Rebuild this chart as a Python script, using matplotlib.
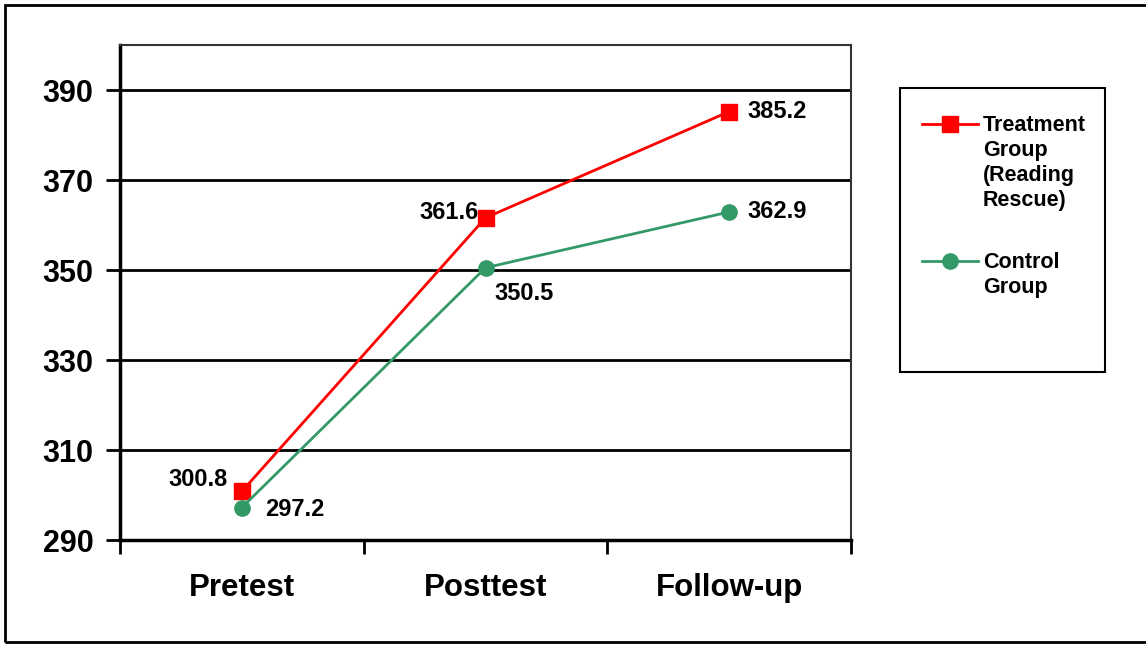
import matplotlib
matplotlib.use('Agg')
import matplotlib.pyplot as plt
from matplotlib.lines import Line2D
from matplotlib.patches import Rectangle

plt.rcParams['font.family'] = ['Liberation Sans', 'DejaVu Sans']
plt.rcParams['font.weight'] = 'bold'

# test occasions and mean scores
categories = ['Pretest', 'Posttest', 'Follow-up']
treatment = [300.8, 361.6, 385.2]
control = [297.2, 350.5, 362.9]
yticks = [290, 310, 330, 350, 370, 390]

red = '#ff0000'
green = '#339966'

W, H = 1146, 646
fig = plt.figure(figsize=(W / 100, H / 100), dpi=100)
ax = fig.add_axes([120 / W, 1 - 540 / H, (851 - 120) / W, (540 - 45) / H])

x = list(range(len(categories)))
ax.plot(x, treatment, color=red, lw=2, marker='s', ms=11, zorder=3)
ax.plot(x, control, color=green, lw=2, marker='o', ms=11, zorder=3)

ax.set_xlim(-0.5, len(categories) - 0.5)
ax.set_ylim(290, 400)
ax.set_yticks(yticks)
ax.set_yticklabels([str(v) for v in yticks], fontsize=22, fontweight='bold')
ax.yaxis.grid(True, color='black', lw=2)
ax.set_axisbelow(True)

# category borders get the tick marks, names sit in between
ax.set_xticks([i - 0.5 for i in range(len(categories) + 1)])
ax.set_xticklabels([])
ax.set_xticks(x, minor=True)
ax.set_xticklabels(categories, minor=True, fontsize=22.5, fontweight='bold')
ax.tick_params(axis='x', which='major', length=10, width=2, direction='out')
ax.tick_params(axis='x', which='minor', length=0, pad=24)
ax.tick_params(axis='y', length=10, width=2, direction='out', pad=9)

for side in ['left', 'bottom']:
    ax.spines[side].set_linewidth(2.5)
for side in ['top', 'right']:
    ax.spines[side].set_linewidth(1.5)
    ax.spines[side].set_color('#333333')

# value labels next to the markers
offsets_t = [(-14, 12, 'right'), (-7, 5, 'right'), (18, 0, 'left')]
offsets_c = [(23, -2, 'left'), (9, -26, 'left'), (18, 0, 'left')]
for i in x:
    dx, dy, ha = offsets_t[i]
    ax.annotate(f'{treatment[i]:.1f}', (i, treatment[i]), xytext=(dx, dy),
                textcoords='offset pixels', ha=ha, va='center',
                fontsize=17, fontweight='bold')
    dx, dy, ha = offsets_c[i]
    ax.annotate(f'{control[i]:.1f}', (i, control[i]), xytext=(dx, dy),
                textcoords='offset pixels', ha=ha, va='center',
                fontsize=17, fontweight='bold')

# legend box
fig.add_artist(Rectangle((900 / W, 1 - 372 / H), 205 / W, 284 / H,
                         transform=fig.transFigure, fill=False,
                         edgecolor='black', lw=1.5))
entries = [('Treatment\nGroup\n(Reading\nRescue)', red, 's', 124),
           ('Control\nGroup', green, 'o', 261)]
for label, col, mk, ypx in entries:
    yy = 1 - ypx / H
    fig.add_artist(Line2D([922 / W, 978 / W], [yy, yy], transform=fig.transFigure,
                          color=col, lw=2))
    fig.add_artist(Line2D([950 / W], [yy], transform=fig.transFigure,
                          color=col, marker=mk, ms=11, lw=0))
    fig.text(983 / W, yy + 9 / H, label, ha='left', va='top',
             fontsize=15.5, fontweight='bold', linespacing=1.24)

# outer frame
fig.add_artist(Rectangle((5 / W, 1 - 642 / H), 1160 / W, 637 / H,
                         transform=fig.transFigure, fill=False,
                         edgecolor='black', lw=2))

fig.savefig('out.png', dpi=100)
